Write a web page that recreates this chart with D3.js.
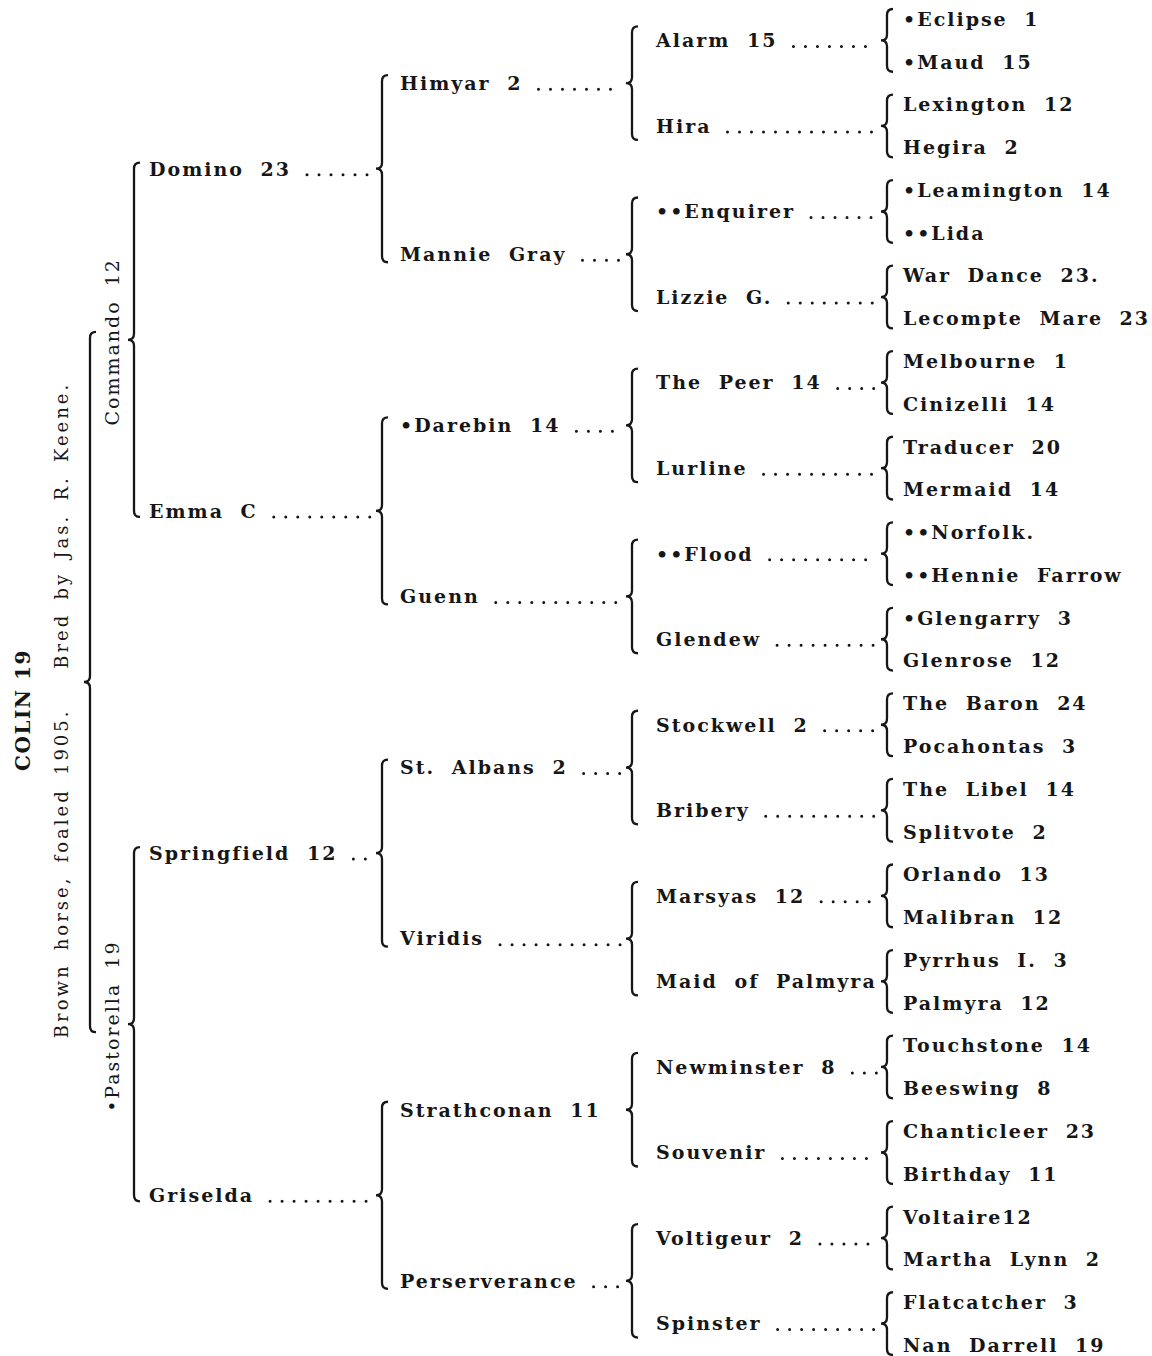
<!DOCTYPE html>
<html>
<head>
<meta charset="utf-8">
<script src="https://cdn.jsdelivr.net/npm/d3@7"></script>
<style>
  body { margin: 0; background: #fff; }
  svg text { font-family: "DejaVu Serif", serif; fill: #161616; }
</style>
</head>
<body>
<svg id="main-svg" width="1152" height="1356"></svg>
<script>
// pedigree of Colin, one array per generation (sire first, then dam)
const horse = "COLIN 19";
const description = "Brown horse, foaled 1905.   Bred by Jas. R. Keene.";
const parents = ["Commando 12", "•Pastorella 19"];
const grandparents = ["Domino 23", "Emma C", "Springfield 12", "Griselda"];
const gen4 = ["Himyar 2", "Mannie Gray", "•Darebin 14", "Guenn",
              "St. Albans 2", "Viridis", "Strathconan 11", "Perserverance"];
const gen5 = ["Alarm 15", "Hira", "••Enquirer", "Lizzie G.", "The Peer 14", "Lurline", "••Flood", "Glendew",
              "Stockwell 2", "Bribery", "Marsyas 12", "Maid of Palmyra", "Newminster 8", "Souvenir", "Voltigeur 2", "Spinster"];
const gen6 = ["•Eclipse 1", "•Maud 15", "Lexington 12", "Hegira 2", "•Leamington 14", "••Lida", "War Dance 23.", "Lecompte Mare 23",
              "Melbourne 1", "Cinizelli 14", "Traducer 20", "Mermaid 14", "••Norfolk.", "••Hennie Farrow", "•Glengarry 3", "Glenrose 12",
              "The Baron 24", "Pocahontas 3", "The Libel 14", "Splitvote 2", "Orlando 13", "Malibran 12", "Pyrrhus I. 3", "Palmyra 12",
              "Touchstone 14", "Beeswing 8", "Chanticleer 23", "Birthday 11", "Voltaire12", "Martha Lynn 2", "Flatcatcher 3", "Nan Darrell 19"];

const generations = [[horse], parents, grandparents, gen4, gen5, gen6];

const svg = d3.select("#main-svg");

// one slot per horse of the outer generation
const slot = d3.scalePoint().domain(d3.range(gen6.length)).range([19, 1345]);

function yOf(g, i) {
    const span = gen6.length / generations[g].length;
    return (slot(i * span) + slot((i + 1) * span - 1)) / 2;
}

const textX   = [30, 119, 149, 400, 656, 903];   // where names start (rotated ones: baseline)
const braceX  = [90, 134, 382, 632, 887];         // brace from generation g to g+1
const braceOut = [8, 6, 8, 14, 10];               // how far a brace runs past its outer names

function bracePath(x, y0, ym, y1, w) {
    return `M${x + w},${y0} Q${x},${y0} ${x},${y0 + w} L${x},${ym - w} Q${x},${ym} ${x - w},${ym} ` +
           `Q${x},${ym} ${x},${ym + w} L${x},${y1 - w} Q${x},${y1} ${x + w},${y1}`;
}

// braces
generations.slice(0, -1).forEach((names, g) => {
    names.forEach((n, i) => {
        const ym = yOf(g, i);
        const y0 = yOf(g + 1, 2 * i) - braceOut[g];
        const y1 = yOf(g + 1, 2 * i + 1) + braceOut[g];
        svg.append("path")
            .attr("d", bracePath(braceX[g], y0, ym, y1, 6))
            .attr("fill", "none")
            .attr("stroke", "#161616")
            .attr("stroke-width", 2.3);
    });
});

// root and its description, rotated
const rootY = yOf(0, 0) + 28;
svg.append("text")
    .attr("transform", `translate(${textX[0]},${rootY}) rotate(-90)`)
    .attr("text-anchor", "middle")
    .attr("font-size", 20).attr("font-weight", "bold")
    .attr("letter-spacing", 1.5)
    .text(horse);
svg.append("text")
    .attr("transform", `translate(68,${rootY}) rotate(-90)`)
    .attr("text-anchor", "middle")
    .attr("font-size", 18)
    .attr("letter-spacing", 3).attr("word-spacing", 4.5)
    .style("white-space", "pre")
    .text(description);

// parents, rotated
parents.forEach((n, i) => {
    svg.append("text")
        .attr("transform", `translate(${textX[1]},${yOf(1, i) + 2}) rotate(-90)`)
        .attr("text-anchor", "middle")
        .attr("font-size", 19)
        .attr("letter-spacing", 2).attr("word-spacing", 6)
        .text(n);
});

// horizontal names with dotted leaders
generations.slice(2).forEach((names, k) => {
    const g = k + 2;
    names.forEach((n, i) => {
        const y = yOf(g, i);
        const t = svg.append("text")
            .attr("x", textX[g])
            .attr("y", y)
            .attr("dy", "0.36em")
            .attr("font-size", 19)
            .attr("font-weight", "bold")
            .attr("letter-spacing", 2).attr("word-spacing", 8)
            .text(n);
        if (g < generations.length - 1) {
            const x0 = textX[g] + t.node().getComputedTextLength() + 16;
            const x1 = braceX[g] - 10;
            if (x1 - x0 > 10) {
                svg.append("line")
                    .attr("x1", x0).attr("x2", x1)
                    .attr("y1", y + 6).attr("y2", y + 6)
                    .attr("stroke", "#161616")
                    .attr("stroke-width", 3)
                    .attr("stroke-linecap", "round")
                    .attr("stroke-dasharray", "0 12");
            }
        }
    });
});
</script>
</body>
</html>
